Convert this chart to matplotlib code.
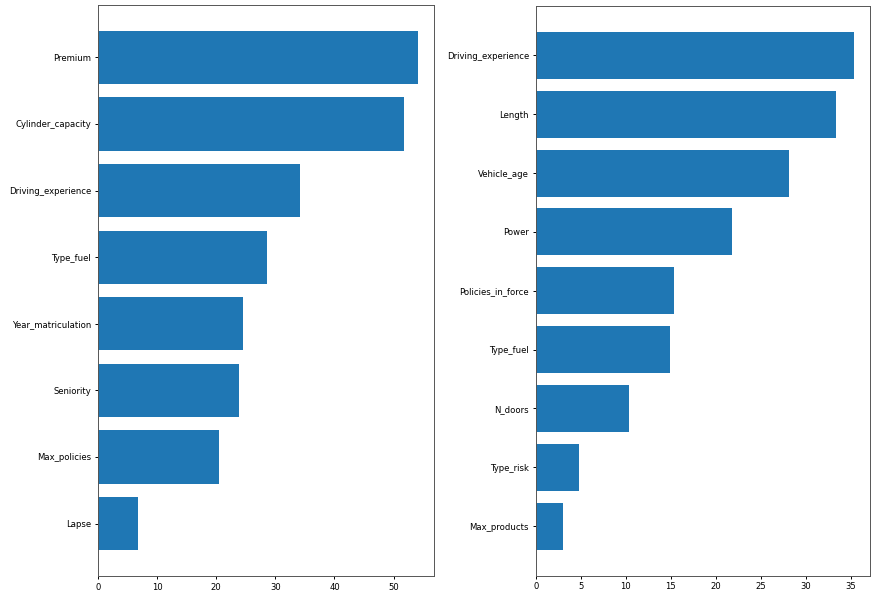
import matplotlib
matplotlib.use("Agg")
import matplotlib.pyplot as plt

# feature importances, left model (sorted ascending for barh)
left_features = ["Lapse", "Max_policies", "Seniority", "Year_matriculation",
                 "Type_fuel", "Driving_experience", "Cylinder_capacity", "Premium"]
left_values = [6.8, 20.5, 23.8, 24.5, 28.6, 34.2, 51.7, 54.1]

# feature importances, right model
right_features = ["Max_products", "Type_risk", "N_doors", "Type_fuel",
                  "Policies_in_force", "Power", "Vehicle_age", "Length",
                  "Driving_experience"]
right_values = [3.07, 4.84, 10.4, 14.92, 15.37, 21.85, 28.1, 33.33, 35.37]

plt.rcParams["font.size"] = 6.1
plt.rcParams["axes.linewidth"] = 0.7
plt.rcParams["xtick.major.width"] = 0.7
plt.rcParams["ytick.major.width"] = 0.7
plt.rcParams["xtick.major.size"] = 2.5
plt.rcParams["ytick.major.size"] = 2.5
plt.rcParams["xtick.major.pad"] = 2.5
plt.rcParams["ytick.major.pad"] = 2.5

fig = plt.figure(figsize=(8.77, 5.97), dpi=100)
ax1 = fig.add_axes([0.1117, 0.035, 0.383, 0.957])
ax2 = fig.add_axes([0.611, 0.036, 0.381, 0.954])

ax1.barh(left_features, left_values, color="#1f77b4")
ax2.barh(right_features, right_values, color="#1f77b4")

ax1.set_xticks([0, 10, 20, 30, 40, 50])
ax2.set_xticks([0, 5, 10, 15, 20, 25, 30, 35])
for ax in (ax1, ax2):
    for s in ax.spines.values():
        s.set_color("#555555")

fig.savefig("out.png", dpi=100, facecolor="white")
